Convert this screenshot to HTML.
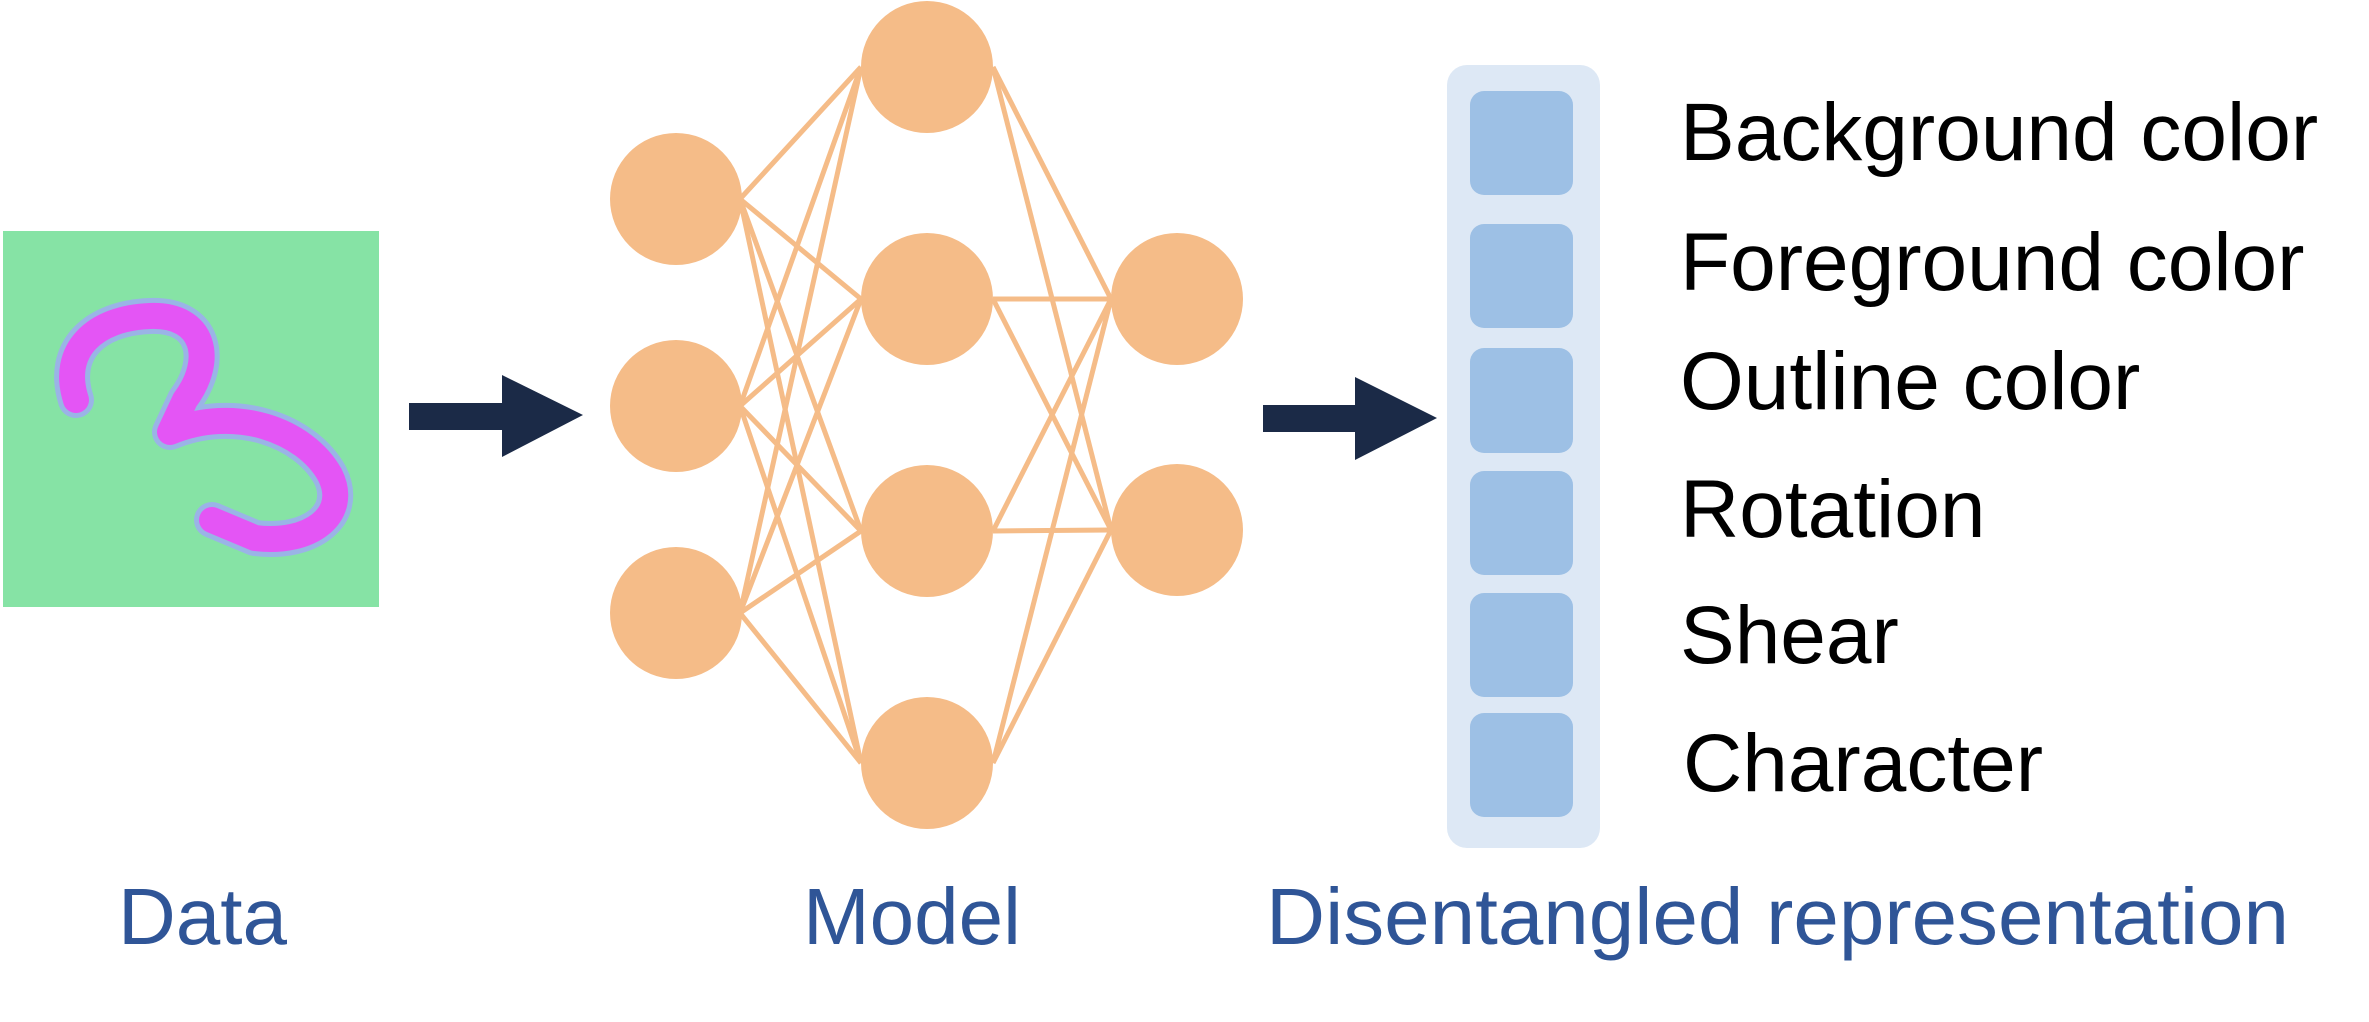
<!DOCTYPE html>
<html><head><meta charset="utf-8"><style>
html,body{margin:0;padding:0;background:#fff;}
svg{display:block}
</style></head><body>
<svg width="2369" height="1022" viewBox="0 0 2369 1022" xmlns="http://www.w3.org/2000/svg">
<rect x="3" y="231" width="376" height="376" fill="#86E3A5"/>
<g fill="none" stroke-linecap="round" stroke-linejoin="round">
<path d="M76,400 C60,350 95,318 150,316 C205,314 215,360 185,400 L170,432 C235,405 305,430 330,475 C350,515 310,545 255,538 L212,520" stroke="#9AB4E6" stroke-width="36"/>
<path d="M76,400 C60,350 95,318 150,316 C205,314 215,360 185,400 L170,432 C235,405 305,430 330,475 C350,515 310,545 255,538 L212,520" stroke="#E455F5" stroke-width="26"/>
</g>
<g stroke="#F5BC88" stroke-width="5">
<line x1="740" y1="199" x2="861" y2="67"/><line x1="740" y1="199" x2="861" y2="299"/><line x1="740" y1="199" x2="861" y2="531"/><line x1="740" y1="199" x2="861" y2="763"/>
<line x1="740" y1="406" x2="861" y2="67"/><line x1="740" y1="406" x2="861" y2="299"/><line x1="740" y1="406" x2="861" y2="531"/><line x1="740" y1="406" x2="861" y2="763"/>
<line x1="740" y1="613" x2="861" y2="67"/><line x1="740" y1="613" x2="861" y2="299"/><line x1="740" y1="613" x2="861" y2="531"/><line x1="740" y1="613" x2="861" y2="763"/>
<line x1="993" y1="67" x2="1111" y2="299"/><line x1="993" y1="67" x2="1111" y2="530"/>
<line x1="993" y1="299" x2="1111" y2="299"/><line x1="993" y1="299" x2="1111" y2="530"/>
<line x1="993" y1="531" x2="1111" y2="299"/><line x1="993" y1="531" x2="1111" y2="530"/>
<line x1="993" y1="763" x2="1111" y2="299"/><line x1="993" y1="763" x2="1111" y2="530"/>
</g>
<g fill="#F5BC88">
<circle cx="676" cy="199" r="66"/><circle cx="676" cy="406" r="66"/><circle cx="676" cy="613" r="66"/>
<circle cx="927" cy="67" r="66"/><circle cx="927" cy="299" r="66"/><circle cx="927" cy="531" r="66"/><circle cx="927" cy="763" r="66"/>
<circle cx="1177" cy="299" r="66"/><circle cx="1177" cy="530" r="66"/>
</g>
<g fill="#1B2A47">
<rect x="409" y="403" width="95" height="27"/><polygon points="502,375 583,415 502,457"/>
<rect x="1263" y="405" width="94" height="27"/><polygon points="1355,377 1437,418 1355,460"/>
</g>
<rect x="1447" y="65" width="153" height="783" rx="20" fill="#DDE8F5"/>
<g fill="#9DC0E5">
<rect x="1470" y="91" width="103" height="104" rx="14"/>
<rect x="1470" y="224" width="103" height="104" rx="14"/>
<rect x="1470" y="348" width="103" height="105" rx="14"/>
<rect x="1470" y="471" width="103" height="104" rx="14"/>
<rect x="1470" y="593" width="103" height="104" rx="14"/>
<rect x="1470" y="713" width="103" height="104" rx="14"/>
</g>
<g font-family="Liberation Sans, sans-serif" font-size="82" fill="#000">
<text x="1680" y="160">Background color</text>
<text x="1680" y="290">Foreground color</text>
<text x="1680" y="409">Outline color</text>
<text x="1680" y="537">Rotation</text>
<text x="1680" y="663">Shear</text>
<text x="1683" y="791">Character</text>
</g>
<g font-family="Liberation Sans, sans-serif" font-size="80" fill="#2F5597">
<text x="118" y="944">Data</text>
<text x="803" y="944">Model</text>
<text x="1266" y="944" textLength="1023" lengthAdjust="spacingAndGlyphs">Disentangled representation</text>
</g>
</svg>
</body></html>
